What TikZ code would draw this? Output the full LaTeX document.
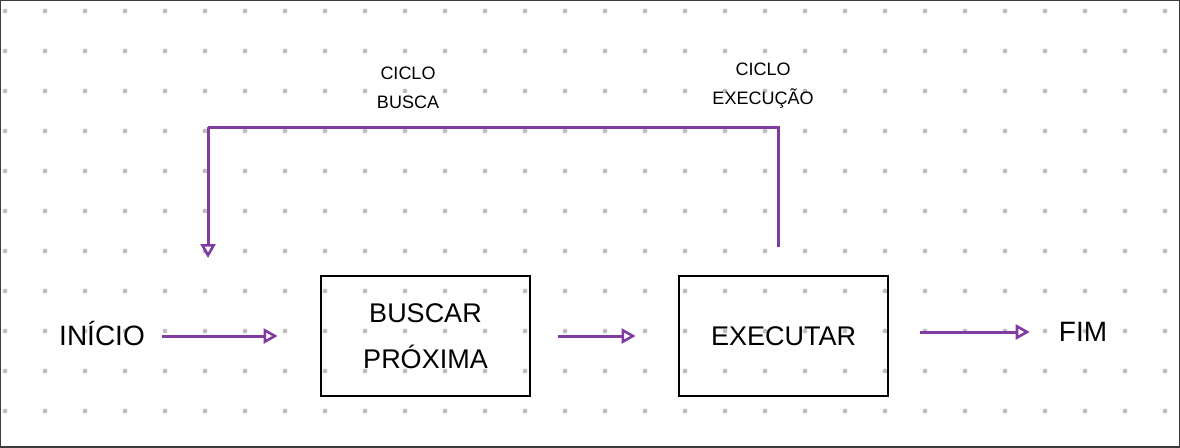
\documentclass[tikz,border=0pt]{standalone}
\usepackage{fontspec}
\setmainfont{Liberation Sans}
\usetikzlibrary{arrows.meta}
\definecolor{flow}{RGB}{128,60,160}
\definecolor{griddot}{RGB}{190,190,190}
\definecolor{frame}{RGB}{60,60,60}
\tikzset{
  stepbox/.style={draw=black,line width=2.8pt,minimum width=209pt,minimum height=120pt,inner sep=0pt,font=\fontsize{27}{46}\selectfont,align=center},
  flowline/.style={draw=flow,line width=3pt},
  flowarrow/.style={flowline,-{Triangle[open,length=14pt,width=15pt,line width=2.6pt]}},
  term/.style={inner sep=0pt,font=\fontsize{28}{32}\selectfont},
  lbl/.style={inner sep=0pt,font=\fontsize{18}{29}\selectfont,align=center}
}
\begin{document}
\begin{tikzpicture}[x=1pt,y=-1pt]
\fill[white] (0,0) rectangle (1180,447);
\useasboundingbox (0,0) rectangle (1180,447);
\foreach \i in {5,45,...,1165}{\foreach \j in {11,51,...,411}{\fill[griddot] (\i,\j) circle (2.4);}}
\draw[frame,line width=2.5pt] (0,0) rectangle (1180,447);

\node[term] (inicio) at (102,333) {INÍCIO};
\node[stepbox] (buscar) at (425.5,336) {BUSCAR\\PRÓXIMA};
\node[stepbox] (exec) at (783.5,336) {EXECUTAR};
\node[term] (fim) at (1083,332) {FIM};

\node[lbl] (lbusca) at (408,88) {CICLO\\BUSCA};
\node[lbl] (lexec) at (763,86) {CICLO\\EXECUÇÃO};

\coordinate (up) at (778,247);
\coordinate (cornerR) at (778,127);
\coordinate (cornerL) at (208,127);
\coordinate (down) at (208,258);

\draw[flowarrow,shorten <=17pt,shorten >=42pt] (inicio.east |- buscar.west) -- (buscar.west);
\draw[flowarrow,shorten <=27pt,shorten >=42pt] (buscar.east) -- (exec.west);
\draw[flowarrow,shorten <=31pt,shorten >=29pt] (exec.east |- fim.west) -- (fim.west);
\draw[flowline] (up) -- (cornerR) -- (cornerL);
\draw[flowarrow] (cornerL) -- (down);
\end{tikzpicture}
\end{document}
